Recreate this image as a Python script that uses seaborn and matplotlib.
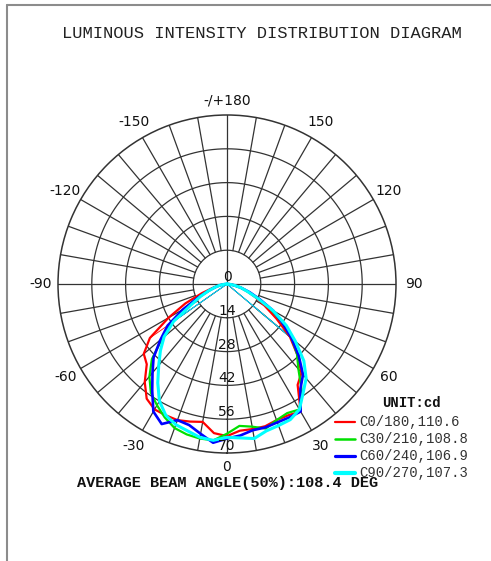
import numpy as np
import pandas as pd
import matplotlib.pyplot as plt
from matplotlib.lines import Line2D
import seaborn as sns


# data (gamma angle in degrees, intensity in cd)
angles = np.arange(-90, 91, 5)

c0_180 = [0, 1, 3, 6, 11, 19, 28, 39, 45, 47, 53, 58, 60, 60, 60, 59, 58, 62, 63,
          61, 61, 61, 60, 60, 61, 51, 48, 41, 34, 25, 18, 13, 9, 6, 3, 1, 0]
c30_210 = [0, 1, 3, 5, 8, 13, 20, 28, 35, 44, 50, 55, 58, 61, 63.5, 64.5, 65, 65, 62,
           59, 60, 62, 60, 59, 60, 54, 46, 41, 35, 28, 21, 14, 9, 6, 3, 1, 0]
c60_240 = [0, 1, 3, 5, 8, 13, 21, 30, 36, 43, 48, 54, 61, 64, 60, 60.5, 63, 66, 64,
           63, 61.5, 61.5, 61, 61, 61, 53, 49, 42, 35, 28, 22, 15, 10, 6, 3, 1, 0]
c90_270 = [0, 1, 3, 5, 8, 12, 17, 27, 34, 39, 44, 50, 56, 60, 62, 63, 64.5, 65, 63.5,
           64, 65, 63, 62.4, 62, 60, 55, 51, 45, 37, 30, 22, 14, 9, 6, 3, 1, 0]

curve_names = ['C0/180,110.6', 'C30/210,108.8', 'C60/240,106.9', 'C90/270,107.3']
curve_colors = ['#ff0000', '#00e000', '#0000ff', '#00ffff']
curve_widths = [1.6, 1.6, 1.9, 2.2]
legend_widths = [1.6, 1.8, 2.3, 3.0]

ring_values = [0, 14, 28, 42, 56, 70]
angle_ticks = [0, 30, 60, 90, 120, 150, 180, -150, -120, -90, -60, -30]
angle_labels = ['0', '30', '60', '90', '120', '150', '-/+180',
                '-150', '-120', '-90', '-60', '-30']
label_radius = {0: 76.0, 180: 76.0}

#long form table for seaborn
df = pd.DataFrame({
    'theta': np.tile(np.deg2rad(angles), 4),
    'cd': c0_180 + c30_210 + c60_240 + c90_270,
    'curve': np.repeat(curve_names, len(angles)),
})

sns.set_style('white')
plt.rcParams['font.family'] = ['DejaVu Sans']

W, H = 491, 561
fig = plt.figure(figsize=(W / 100, H / 100), dpi=100)
ax = fig.add_axes([58 / W, 1 - 453 / H, 338 / W, 338 / H], projection='polar')
ax.set_theta_zero_location('S')
ax.set_theta_direction(1)
ax.set_ylim(0, 70)
ax.set_xticks([])
ax.set_yticks([])
ax.grid(False)
ax.spines['polar'].set_color('#333333')
ax.spines['polar'].set_linewidth(1.1)

grid_col = '#333333'
full = np.linspace(0, 2 * np.pi, 361)
for r in ring_values[1:-1]:
    ax.plot(full, [r] * len(full), color=grid_col, lw=0.9, zorder=1)
for a in range(0, 360, 10):
    t = np.deg2rad(a)
    r0 = 0 if a % 90 == 0 else 14
    ax.plot([t, t], [r0, 70], color=grid_col, lw=0.9, zorder=1)

#curves
for name, col, lw in zip(curve_names, curve_colors, curve_widths):
    sub = df[df['curve'] == name]
    sns.lineplot(data=sub, x='theta', y='cd', color=col, lw=lw, sort=False,
                 estimator=None, ax=ax, zorder=3)
    # thin chords from the centre
    left = sub[np.isclose(sub['theta'], np.deg2rad(-55))]['cd'].values[0]
    right = sub[np.isclose(sub['theta'], np.deg2rad(50))]['cd'].values[0]
    ax.plot([np.deg2rad(-55), np.deg2rad(-55)], [0, left], color=col, lw=0.6, zorder=2)
    ax.plot([np.deg2rad(50), np.deg2rad(50)], [0, right], color=col, lw=0.6, zorder=2)
ax.set_xlabel('')
ax.set_ylabel('')

#labels
for a, lab in zip(angle_ticks, angle_labels):
    ax.text(np.deg2rad(a), label_radius.get(a, 77.3), lab, ha='center', va='center',
            fontsize=10, color='#111111')
for r in ring_values:
    ax.text(0, r, str(r), ha='center', va='bottom', fontsize=10, color='#111111',
            zorder=4)

mono = 'Liberation Mono'
fig.text(261.5 / W, 1 - 33 / H, 'LUMINOUS INTENSITY DISTRIBUTION DIAGRAM',
         family=mono, fontsize=12.3, ha='center', va='center', color='#222222')
fig.text(227.5 / W, 1 - 483 / H, 'AVERAGE BEAM ANGLE(50%):108.4 DEG',
         family=mono, fontsize=11, weight='bold', ha='center', va='center',
         color='#111111')
fig.text(411 / W, 1 - 403 / H, 'UNIT:cd', family=mono, fontsize=10,
         weight='bold', ha='center', va='center', color='#111111')

for i, (name, col, lw) in enumerate(zip(curve_names, curve_colors, legend_widths)):
    y = 1 - (422 + 17 * i) / H
    fig.add_artist(Line2D([335 / W, 355 / W], [y, y], color=col, lw=lw,
                          transform=fig.transFigure))
    fig.text(359 / W, y, name, family=mono, fontsize=10, ha='left', va='center',
             color='#333333')

#page border
fig.add_artist(Line2D([7 / W, 7 / W], [0, 1 - 5 / H], color='#8c8c8c', lw=1.5,
                      transform=fig.transFigure))
fig.add_artist(Line2D([7 / W, 1], [1 - 5 / H, 1 - 5 / H], color='#8c8c8c', lw=1.5,
                      transform=fig.transFigure))

fig.savefig('out.png', dpi=100)
